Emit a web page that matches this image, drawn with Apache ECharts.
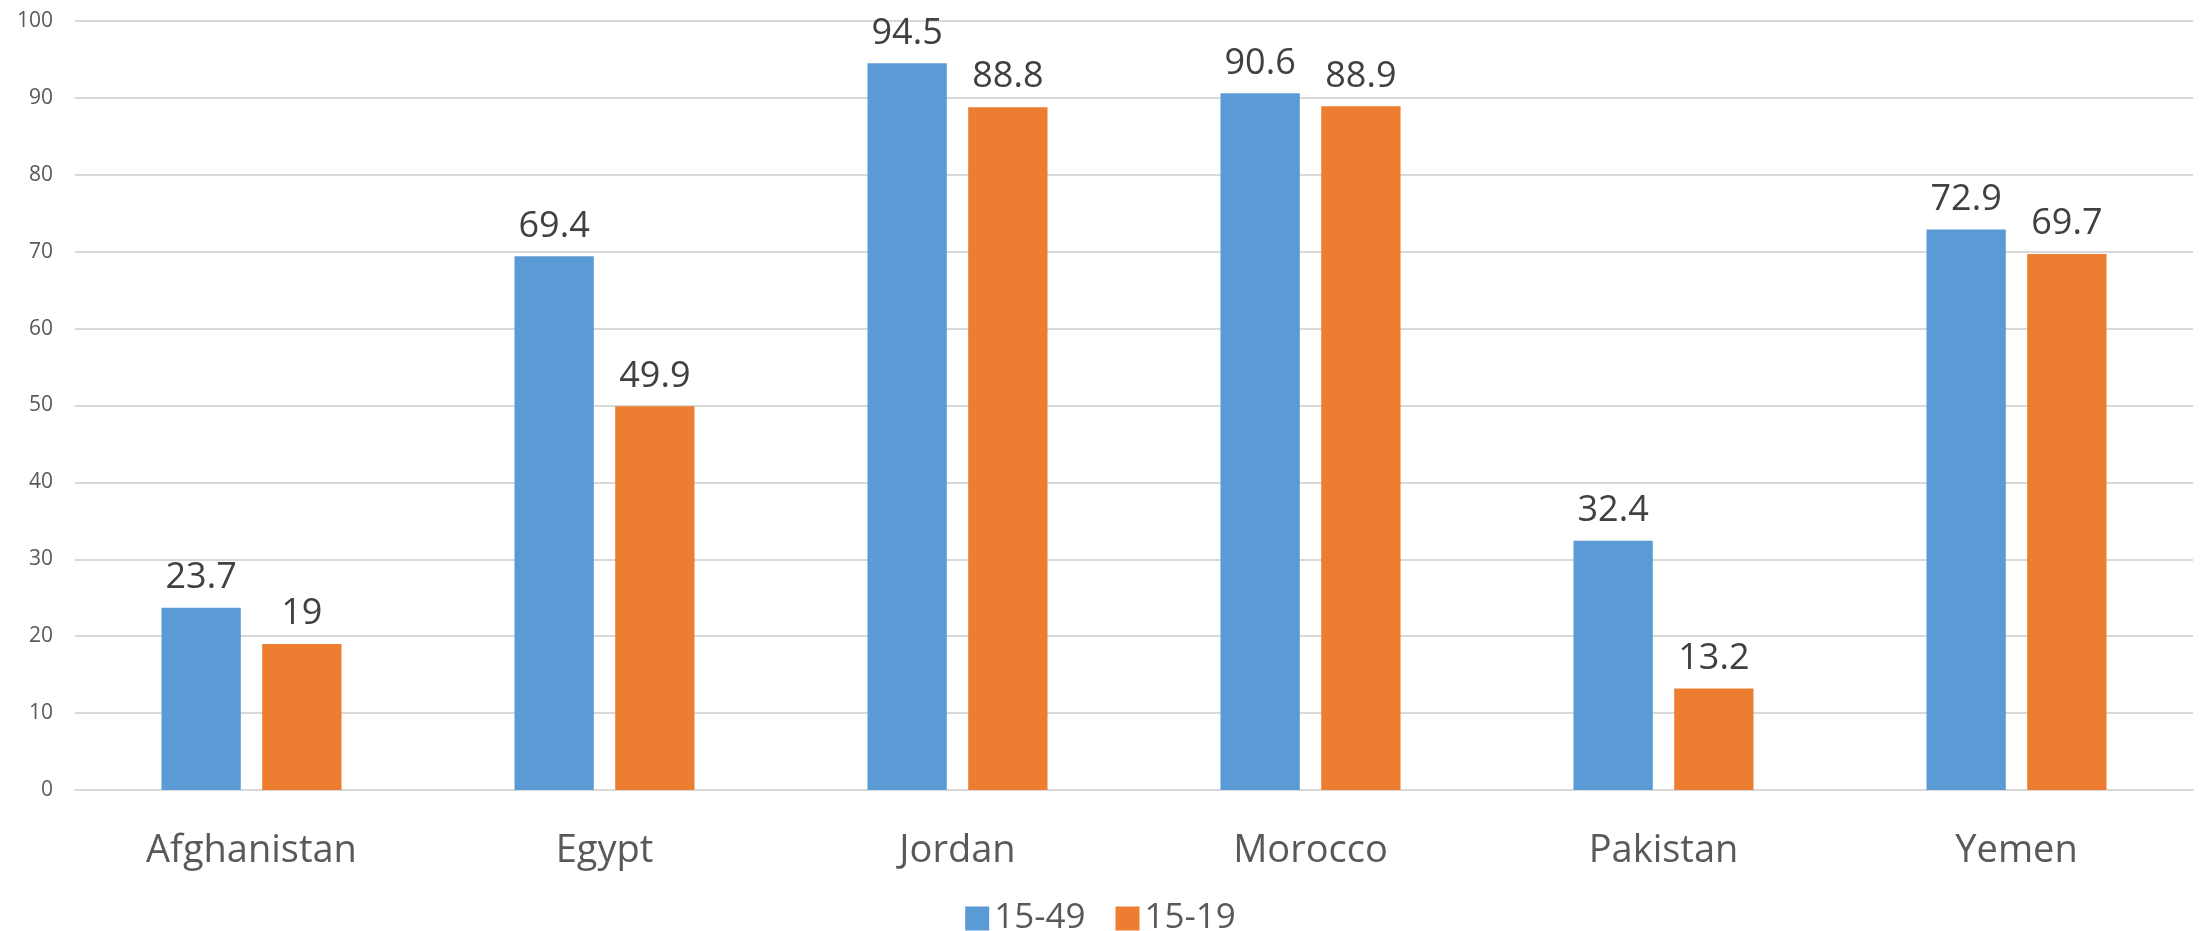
<!DOCTYPE html>
<html>
<head>
<meta charset="utf-8">
<script src="https://cdn.jsdelivr.net/npm/echarts@6/dist/echarts.min.js"></script>
<style>html,body{margin:0;padding:0;background:#fff}#c{width:2201px;height:931px}</style>
</head>
<body>
<div id="c"></div>
<script>
const categories = ['Afghanistan', 'Egypt', 'Jordan', 'Morocco', 'Pakistan', 'Yemen'];
const series1549 = [23.7, 69.4, 94.5, 90.6, 32.4, 72.9];
const series1519 = [19, 49.9, 88.8, 88.9, 13.2, 69.7];
const seriesNames = ['15-49', '15-19'];

const chart = echarts.init(document.getElementById('c'));
const font = 'Open Sans';
const lbl = {show: true, position: 'top', distance: 12, color: '#404040', fontSize: 36, fontFamily: font};
chart.setOption({
  animation: false,
  grid: {left: 75, right: 8, top: 21, bottom: 141},
  legend: {
    top: 896, itemWidth: 24, itemHeight: 24, itemGap: 30,
    icon: 'rect',
    textStyle: {fontSize: 35, color: '#595959', fontFamily: font},
    data: seriesNames
  },
  xAxis: {
    type: 'category', data: categories,
    axisLine: {lineStyle: {color: '#D9D9D9', width: 2}},
    axisTick: {show: false},
    axisLabel: {fontSize: 38, color: '#595959', fontFamily: font, margin: 42}
  },
  yAxis: {
    type: 'value', min: 0, max: 100, interval: 10,
    axisLine: {show: false}, axisTick: {show: false},
    splitLine: {lineStyle: {color: '#D9D9D9', width: 2}},
    axisLabel: {fontSize: 21, color: '#595959', fontFamily: font, margin: 22}
  },
  series: [
    {name: seriesNames[0], type: 'bar', data: series1549, barGap: '27%', barCategoryGap: '49%',
     itemStyle: {color: '#5B9BD5'}, label: lbl},
    {name: seriesNames[1], type: 'bar', data: series1519,
     itemStyle: {color: '#ED7D31'}, label: lbl}
  ]
});
</script>
</body>
</html>
